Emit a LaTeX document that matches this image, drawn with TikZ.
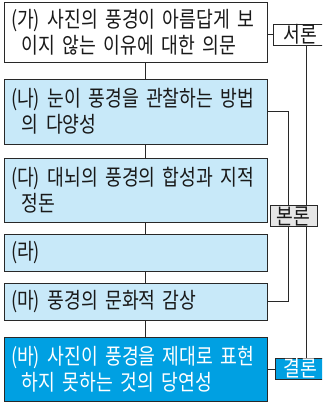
\documentclass[tikz,border=0pt]{standalone}
\usepackage{fontspec}
\newfontfamily\kr[FakeStretch=0.83]{Noto Sans CJK KR}
\usetikzlibrary{backgrounds}
\definecolor{lblue}{RGB}{200,233,249}
\definecolor{dblue}{RGB}{0,160,226}
\definecolor{edgec}{RGB}{40,40,40}
\definecolor{lgrey}{RGB}{230,230,230}
\begin{document}
\begin{tikzpicture}[x=1pt,y=-1pt,
  every node/.style={font=\kr\fontsize{22}{26}\selectfont, text=black!90},
  box/.style={draw=edgec,line width=1pt,text width=249pt,inner xsep=7pt,inner ysep=0pt,align=left},
  tag/.style={draw=edgec,line width=1pt,inner sep=0pt,minimum height=21pt},
  link/.style={draw=edgec,line width=1pt}]
\clip (0,0) rectangle (322,402);
\node[box,fill=white,minimum height=60pt] (ga) at (135.5,32) {\mbox{(가) 사진의 풍경이 아름답게 보}\\\hspace*{11pt}\mbox{이지 않는 이유에 대한 의문}};
\node[box,fill=lblue,minimum height=65pt] (na) at (135.5,111.5) {\mbox{(나) 눈이 풍경을 관찰하는 방법}\\\hspace*{11pt}\mbox{의 다양성}};
\node[box,fill=lblue,minimum height=64pt] (da) at (135.5,190) {\mbox{(다) 대뇌의 풍경의 합성과 지적}\\\hspace*{11pt}\mbox{정돈}};
\node[box,fill=lblue,minimum height=37pt] (ra) at (135.5,252.5) {(라)};
\node[box,fill=lblue,minimum height=37pt] (ma) at (135.5,301.5) {\mbox{(마) 풍경의 문화적 감상}};
\node[box,fill=dblue,text=white,minimum height=64pt] (ba) at (135.5,369) {\mbox{(바) 사진이 풍경을 제대로 표현}\\\hspace*{11pt}\mbox{하지 못하는 것의 당연성}};
\node[tag,fill=white,minimum width=54pt] (seo) at (300,34.5) {서론};
\node[tag,fill=lgrey,minimum width=47pt] (bon) at (293.5,216) {본론};
\node[tag,fill=dblue,text=white,minimum width=50pt] (gyeol) at (300,368.5) {결론};
\coordinate (vx) at (145,0);
\coordinate (rx1) at (288,0);
\coordinate (rx2) at (306,0);
\begin{scope}[on background layer]
\draw[link] (ga.south -| vx) -- (na.north -| vx);
\draw[link] (na.south -| vx) -- (da.north -| vx);
\draw[link] (da.south -| vx) -- (ra.north -| vx);
\draw[link] (ra.south -| vx) -- (ma.north -| vx);
\draw[link] (ma.south -| vx) -- (ba.north -| vx);
\draw[link] (seo.west -| ga.east) -- (seo.west);
\draw[link] (na.east) -- (na.east -| rx1) -- (ma.east -| rx1) -- (ma.east);
\draw[link] (seo.south -| rx2) -- (gyeol.north -| rx2);
\draw[link] (ba.east) -- (gyeol.west |- ba.east);
\end{scope}
\end{tikzpicture}
\end{document}
